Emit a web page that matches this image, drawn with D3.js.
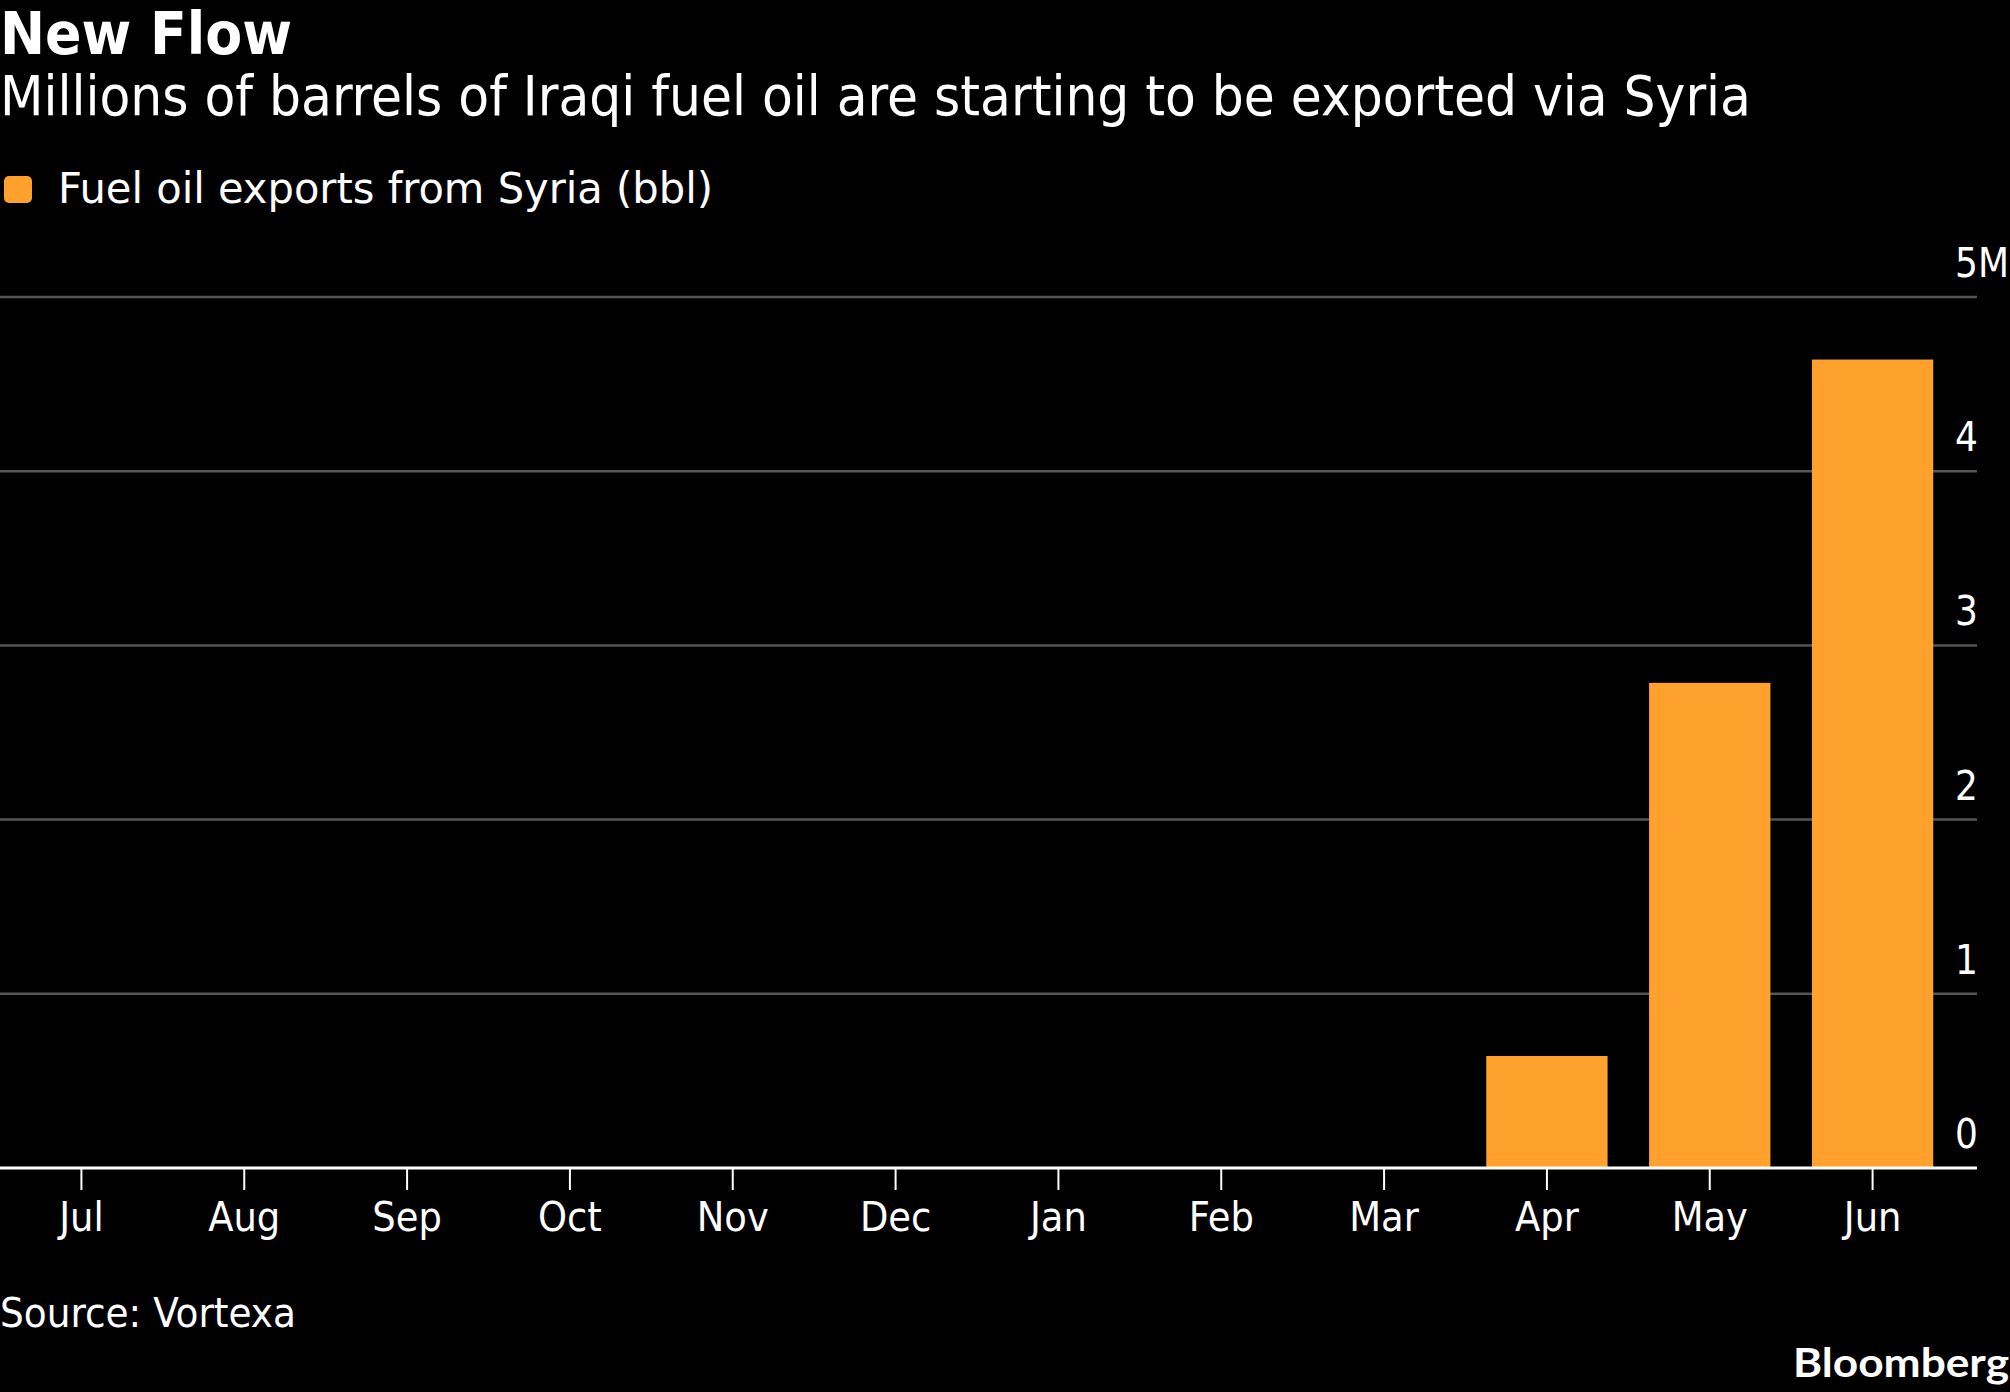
<!DOCTYPE html>
<html>
<head>
<meta charset="utf-8">
<script src="https://cdn.jsdelivr.net/npm/d3@7"></script>
<style>
  html, body { margin: 0; padding: 0; background: #000; }
  svg { display: block; }
  text { font-family: "DejaVu Sans Condensed", "DejaVu Sans", sans-serif; font-stretch: condensed; fill: #fff; }
</style>
</head>
<body>
<svg id="chart" width="2010" height="1392"></svg>
<script>
// months on the x axis
var months = ["Jul", "Aug", "Sep", "Oct", "Nov", "Dec", "Jan", "Feb", "Mar", "Apr", "May", "Jun"];
// fuel oil exports from Syria, millions of barrels
var exports_mbbl = [0, 0, 0, 0, 0, 0, 0, 0, 0, 0.643, 2.785, 4.641];
var y_ticks = [0, 1, 2, 3, 4, 5];
var y_tick_labels = ["0", "1", "2", "3", "4", "5M"];

var title = "New Flow";
var subtitle = "Millions of barrels of Iraqi fuel oil are starting to be exported via Syria";
var legend_label = "Fuel oil exports from Syria (bbl)";
var source = "Source: Vortexa";

var svg = d3.select("#chart");
var width = 2010, height = 1392;
var margin = {top: 297, right: 33, bottom: 224, left: 0};
var plot_right = width - margin.right;   // where grid lines end
var baseline = height - margin.bottom;

svg.append("rect")
    .attr("width", width)
    .attr("height", height)
    .attr("fill", "#000");

var data = months.map(function(m, i) { return {month: m, val: exports_mbbl[i]}; });

var xScale = d3.scaleBand()
    .domain(months)
    .range([0, 1954])
    .paddingInner(0.255)
    .paddingOuter(0.1275);

var yScale = d3.scaleLinear()
    .domain([0, 5])
    .range([baseline, margin.top]);

// header
svg.append("text")
    .attr("x", 0)
    .attr("y", 54)
    .attr("textLength", 292)
    .attr("lengthAdjust", "spacingAndGlyphs")
    .style("font-family", "'DejaVu Sans Condensed', 'DejaVu Sans', sans-serif")
    .style("font-stretch", "condensed")
    .style("font-weight", "bold")
    .style("font-size", "58px")
    .text(title);

svg.append("text")
    .attr("x", 0)
    .attr("y", 115)
    .attr("textLength", 1751)
    .attr("lengthAdjust", "spacingAndGlyphs")
    .style("font-size", "55px")
    .text(subtitle);

// legend
svg.append("rect")
    .attr("x", 4)
    .attr("y", 176)
    .attr("width", 28)
    .attr("height", 27)
    .attr("rx", 5)
    .attr("fill", "#ffa12c");

svg.append("text")
    .attr("x", 58)
    .attr("y", 203)
    .attr("textLength", 655)
    .attr("lengthAdjust", "spacingAndGlyphs")
    .style("font-size", "43px")
    .text(legend_label);

// grid lines
svg.append("g")
    .selectAll("line")
    .data(y_ticks.slice(1))
    .enter()
    .append("line")
    .attr("x1", 0)
    .attr("x2", plot_right)
    .attr("y1", function(d) { return yScale(d); })
    .attr("y2", function(d) { return yScale(d); })
    .style("stroke", "#555")
    .style("stroke-width", 2.5);

// y labels sit above their lines on the right
svg.append("g")
    .selectAll("text")
    .data(y_ticks)
    .enter()
    .append("text")
    .attr("x", 1955)
    .attr("y", function(d) { return yScale(d) - 20; })
    .style("font-size", "40px")
    .text(function(d, i) { return y_tick_labels[i]; });

// bars
svg.append("g")
    .selectAll("rect")
    .data(data)
    .enter()
    .append("rect")
    .attr("x", function(d) { return xScale(d.month); })
    .attr("width", xScale.bandwidth())
    .attr("y", function(d) { return yScale(d.val); })
    .attr("height", function(d) { return baseline - yScale(d.val); })
    .attr("fill", "#ffa12c");

// x axis
var xAxis = d3.axisBottom(xScale)
    .tickSize(22)
    .tickPadding(12);

var gx = svg.append("g")
    .attr("transform", "translate(0," + baseline + ")")
    .call(xAxis);

gx.select(".domain").remove();
gx.selectAll(".tick line")
    .style("stroke", "#fff")
    .style("stroke-width", 2);
gx.selectAll(".tick text")
    .attr("fill", "#fff")
    .style("font-family", "'DejaVu Sans Condensed', 'DejaVu Sans', sans-serif")
    .style("font-stretch", "condensed")
    .style("font-size", "41px");

svg.append("line")
    .attr("x1", 0)
    .attr("x2", plot_right)
    .attr("y1", baseline)
    .attr("y2", baseline)
    .style("stroke", "#fff")
    .style("stroke-width", 3);

// footer
svg.append("text")
    .attr("x", 0)
    .attr("y", 1327)
    .attr("textLength", 296)
    .attr("lengthAdjust", "spacingAndGlyphs")
    .style("font-size", "41px")
    .text(source);

svg.append("text")
    .attr("x", 2009)
    .attr("y", 1377)
    .attr("text-anchor", "end")
    .attr("textLength", 216)
    .attr("lengthAdjust", "spacingAndGlyphs")
    .style("font-family", "Lato, 'Open Sans', sans-serif")
    .style("font-stretch", "normal")
    .style("font-weight", "bold")
    .style("font-size", "41px")
    .text("Bloomberg");
</script>
</body>
</html>
